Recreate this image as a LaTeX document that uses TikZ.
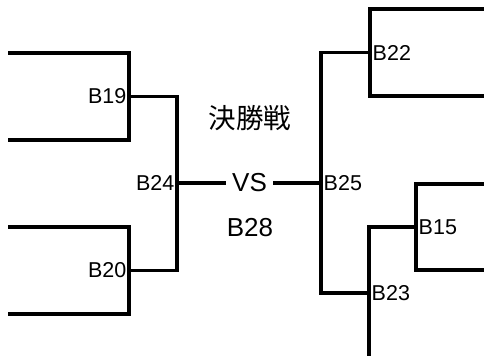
\documentclass[tikz,border=0pt]{standalone}
\usepackage{fontspec}
\setmainfont{Liberation Sans}
\newfontfamily\jpfont{Noto Sans CJK JP}
\usepackage{tikz}
\usetikzlibrary{positioning}
\tikzstyle{bracket}=[line width=3.3pt]
\tikzstyle{seed}=[inner sep=2.5pt, font=\fontsize{21.5}{21.5}\selectfont]
\tikzstyle{final}=[inner sep=0pt, font=\fontsize{26}{26}\selectfont]
% open box of a seeded pair: name, x, top y, bottom y, outer x
\newcommand{\seedbox}[5]{
	\draw[bracket] (#5,#3) -- (#2,#3) -- (#2,#4) -- (#5,#4);
	\coordinate (#1) at (#2,{(#3+#4)/2});}
\begin{document}
\begin{tikzpicture}[x=1pt,y=-1pt]
\useasboundingbox (0,0) rectangle (484,356);
\seedbox{m19}{129}{53}{140}{8}
\seedbox{m20}{129}{227}{314}{8}
\seedbox{m22}{370}{9}{96}{484}
\seedbox{m15}{416}{184}{270}{484}
\coordinate (m24) at (177,183);
\coordinate (m25) at (321,183);
\coordinate (m23) at (369,293);
\coordinate (m23end) at (369,356);
\node[seed, anchor=east] (b19) at (m19) {B19};
\node[seed, anchor=east] (b20) at (m20) {B20};
\node[seed, anchor=east] (b24) at (m24) {B24};
\node[seed, anchor=west] (b22) at (m22) {B22};
\node[seed, anchor=west] (b25) at (m25) {B25};
\node[seed, anchor=west] (b15) at (m15) {B15};
\node[seed, anchor=west] (b23) at (m23) {B23};
\node[final, minimum width=47pt] (vs) at (249.5,183) {VS};
\node[final] (b28) at (250,228) {B28};
\node[final, font=\jpfont\fontsize{27.5}{27.5}\selectfont] (title) at (250,118) {決勝戦};
\draw[bracket] (m19) -| (m24);
\draw[bracket] (m20) -| (m24);
\draw[bracket] (m24) -- (vs);
\draw[bracket] (vs) -- (m25);
\draw[bracket] (m22) -| (m25);
\draw[bracket] (m23) -| (m25);
\draw[bracket] (m15) -| (m23end);
\end{tikzpicture}
\end{document}
